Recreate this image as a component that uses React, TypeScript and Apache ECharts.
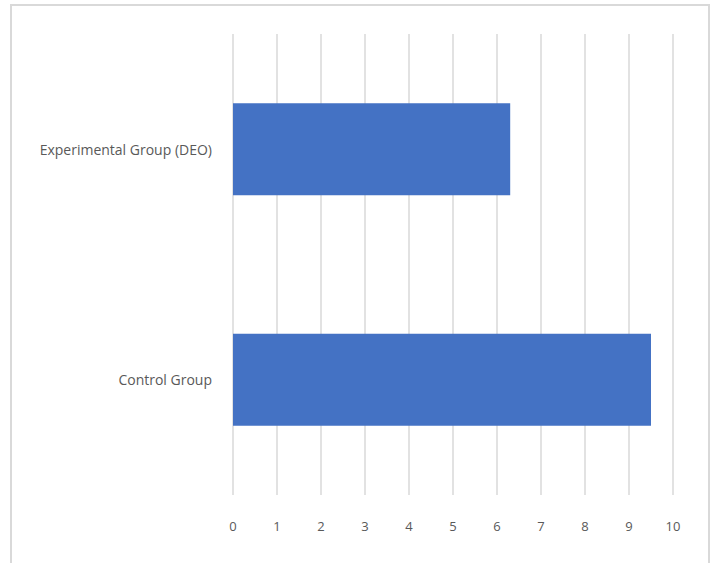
import React, { useEffect, useRef } from "react";
import * as echarts from "echarts";

const categories = ["Control Group", "Experimental Group (DEO)"];
const values = [9.5, 6.3];
const xMin = 0;
const xMax = 10;
const xInterval = 1;

export default function App() {
  const ref = useRef<HTMLDivElement>(null);
  useEffect(() => {
    if (!ref.current) return;
    const chart = echarts.init(ref.current, null, { renderer: "svg" });
    chart.setOption({
      animation: false,
      backgroundColor: "#ffffff",
      textStyle: { fontFamily: "Open Sans" },
      grid: { left: 233, right: 37, top: 34, bottom: 68, containLabel: false },
      xAxis: {
        type: "value",
        min: xMin,
        max: xMax,
        interval: xInterval,
        axisLine: { show: false },
        axisTick: { show: false },
        axisLabel: { color: "#595959", fontSize: 13, margin: 24 },
        splitLine: { show: true, lineStyle: { color: "#d9d9d9", width: 1.5 } },
      },
      yAxis: {
        type: "category",
        data: categories,
        axisLine: { show: false },
        axisTick: { show: false },
        axisLabel: { color: "#595959", fontSize: 14, margin: 21 },
        splitLine: { show: false },
      },
      series: [
        {
          type: "bar",
          data: values,
          barCategoryGap: "60%",
          itemStyle: { color: "#4472C4" },
        },
      ],
      graphic: [
        {
          type: "rect",
          shape: { x: 11, y: 5, width: 698, height: 620 },
          style: { fill: "none", stroke: "#d9d9d9", lineWidth: 2 },
          silent: true,
        },
      ],
    });
    return () => chart.dispose();
  }, []);
  return (
    <div
      ref={ref}
      style={{ position: "fixed", left: 0, top: 0, width: 710, height: 563 }}
    />
  );
}
